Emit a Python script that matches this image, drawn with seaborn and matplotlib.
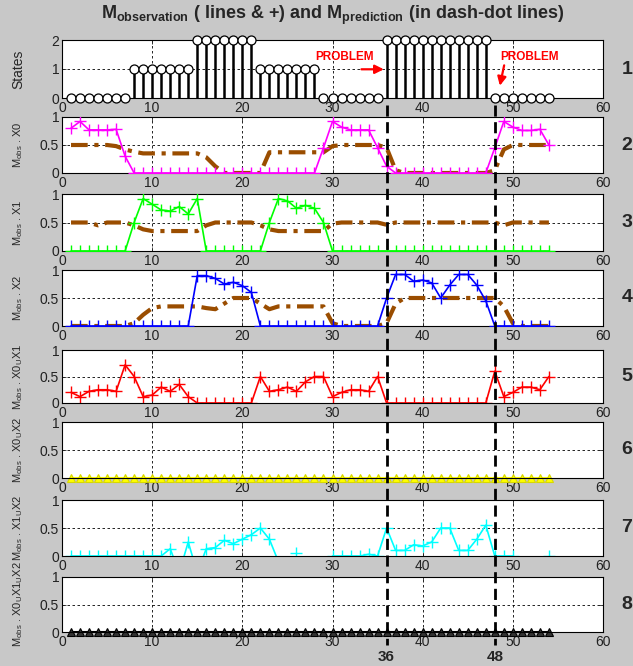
import numpy as np
import pandas as pd
import matplotlib
matplotlib.use("Agg")
import matplotlib.pyplot as plt
import seaborn as sns
from matplotlib.lines import Line2D

sns.set_style("white")
plt.rcParams['font.family'] = ['Liberation Sans', 'DejaVu Sans']
plt.rcParams['mathtext.fontset'] = 'custom'
plt.rcParams['mathtext.rm'] = 'Liberation Sans'
plt.rcParams['mathtext.it'] = 'Liberation Sans'
plt.rcParams['mathtext.bf'] = 'Liberation Sans:bold'

# ---------------- data ----------------
time = list(range(1, 55))

states = [0, 0, 0, 0, 0, 0, 0,
          1, 1, 1, 1, 1, 1, 1,
          2, 2, 2, 2, 2, 2, 2,
          1, 1, 1, 1, 1, 1, 1,
          0, 0, 0, 0, 0, 0, 0,
          2, 2, 2, 2, 2, 2, 2, 2, 2, 2, 2, 2,
          0, 0, 0, 0, 0, 0, 0]

obs_x0 = [0.80, 0.92, 0.77, 0.77, 0.77, 0.78, 0.30,
          0, 0, 0, 0, 0, 0, 0, 0, 0, 0, 0, 0, 0, 0, 0, 0, 0, 0, 0, 0, 0,
          0.45, 0.92, 0.82, 0.77, 0.77, 0.77, 0.45, 0.12,
          0, 0, 0, 0, 0, 0, 0, 0, 0, 0, 0,
          0.45, 0.92, 0.82, 0.76, 0.76, 0.78, 0.50]
pred_x0 = [0.5, 0.5, 0.5, 0.5, 0.5, 0.48, 0.42, 0.38,
           0.35, 0.35, 0.35, 0.35, 0.35, 0.35, 0.35, 0.28, 0.12,
           0, 0, 0, 0, 0,
           0.37, 0.37, 0.37, 0.37, 0.37, 0.37, 0.37,
           0.48, 0.5, 0.5, 0.5, 0.5, 0.5, 0.45, 0.05,
           0, 0, 0, 0, 0, 0, 0, 0, 0, 0,
           0.05, 0.42, 0.5, 0.5, 0.5, 0.5, 0.5]

obs_x1 = [0, 0, 0, 0, 0, 0, 0,
          0.5, 0.92, 0.82, 0.72, 0.70, 0.78, 0.65, 0.92,
          0, 0, 0, 0, 0, 0, 0,
          0.5, 0.92, 0.88, 0.75, 0.80, 0.75, 0.5,
          0, 0, 0, 0, 0, 0, 0, 0, 0, 0, 0, 0, 0, 0, 0, 0, 0, 0, 0, 0, 0, 0, 0, 0, 0]
pred_x1 = [0.5, 0.5, 0.5, 0.45, 0.5, 0.5, 0.5, 0.45, 0.38,
           0.35, 0.35, 0.35, 0.35, 0.35, 0.35,
           0.45, 0.5, 0.5, 0.5, 0.5, 0.5, 0.45, 0.38,
           0.35, 0.35, 0.35, 0.35, 0.35, 0.35,
           0.48, 0.5, 0.5, 0.5, 0.5, 0.5, 0.46,
           0.5, 0.5, 0.5, 0.5, 0.5, 0.5, 0.5, 0.5, 0.5, 0.5, 0.5, 0.5,
           0.45, 0.5, 0.5, 0.5, 0.5, 0.5]

obs_x2 = [0, 0, 0, 0, 0, 0, 0, 0, 0, 0, 0, 0, 0, 0,
          0.90, 0.90, 0.85, 0.75, 0.78, 0.72, 0.60,
          0, 0, 0, 0, 0, 0, 0, 0, 0, 0, 0, 0, 0, 0,
          0.5, 0.92, 0.92, 0.80, 0.82, 0.77, 0.5, 0.73, 0.92, 0.92, 0.73, 0.45,
          0, 0, 0, 0, 0, 0, 0]
pred_x2 = [0, 0, 0, 0, 0, 0, 0,
           0.05, 0.2, 0.32,
           0.35, 0.35, 0.35, 0.35, 0.35,
           0.32, 0.30, 0.40, 0.5, 0.5, 0.5, 0.40, 0.30,
           0.35, 0.35, 0.35, 0.35, 0.35, 0.35,
           0.05, 0, 0, 0, 0, 0,
           0.05, 0.40,
           0.5, 0.5, 0.5, 0.5, 0.5, 0.5, 0.5, 0.5, 0.5, 0.5, 0.5,
           0.35, 0.05, 0, 0, 0, 0]

obs_x01 = [0.20, 0.12, 0.22, 0.25, 0.25, 0.22, 0.72, 0.50, 0.12, 0.15, 0.30, 0.22, 0.35, 0.12,
           0, 0, 0, 0, 0, 0, 0,
           0.50, 0.22, 0.25, 0.30, 0.22, 0.40, 0.50, 0.50, 0.12, 0.20, 0.25, 0.25, 0.22, 0.50,
           0, 0, 0, 0, 0, 0, 0, 0, 0, 0, 0, 0,
           0.60, 0.12, 0.20, 0.30, 0.30, 0.25, 0.50]

obs_x02 = [0] * 54

nan = np.nan
obs_x12 = [0, 0, 0, 0, 0, 0, 0, 0, 0, 0, 0,
           0.13, -0.3, 0.25, -0.3, 0.13, 0.15, 0.28, 0.22, 0.30, 0.38, 0.50, 0.30, -0.1,
           nan, 0.05, nan, nan, nan,
           0, 0, 0, 0, 0.03, 0,
           0.50, 0.10, 0.10, 0.20, 0.18, 0.25, 0.50, 0.50, 0.10, 0.10, 0.30, 0.55,
           0, 0, 0, nan, nan, nan, 0]

obs_x012 = [0] * 54

state_labels = ['0', '1', '2']
prob_labels = ['0', '0.5', '1']
xticks = [0, 10, 20, 30, 40, 50, 60]

# ---------------- figure ----------------
W, H = 633, 666
fig = plt.figure(figsize=(W / 100, H / 100), dpi=100, facecolor='#c8c8c8')

panels_px = [(40, 98), (117, 173), (194, 251), (270, 326),
             (350, 403), (422, 478), (500, 556), (577, 632)]
left, width = 62 / W, 541 / W
axes = []
for (t, b) in panels_px:
    ax = fig.add_axes([left, 1 - b / H, width, (b - t) / H])
    axes.append(ax)

brown = '#9a4d00'
pred_style = dict(color=brown, linewidth=3, linestyle=(0, (4, 1.6, 1, 1.6)))


def obs_kw(col):
    return dict(color=col, marker='+', markersize=8, markeredgewidth=1.0,
                markeredgecolor=col, markerfacecolor=col, linewidth=1.2)


def style_axis(ax, ylim, yticks, ylabels):
    ax.set_facecolor('white')
    ax.set_xlim(0, 60)
    ax.set_ylim(*ylim)
    ax.set_xticks(xticks)
    ax.set_xticklabels([str(v) for v in xticks])
    ax.set_yticks(yticks)
    ax.set_yticklabels(ylabels)
    ax.tick_params(direction='in', length=3, top=True, right=True,
                   labelsize=10, labelcolor='#222222', pad=2,
                   bottom=True, left=True, width=0.6)
    for s in ax.spines.values():
        s.set_color('black')
        s.set_linewidth(0.8)
    ax.grid(True, color='black', linestyle=(0, (3, 3)), linewidth=0.6)
    ax.set_axisbelow(True)
    ax.set_xlabel('')


# panel 1: states (stem)
ax = axes[0]
ax.vlines(time, 0, states, color='black', linewidth=1.8, zorder=2)
sns.scatterplot(x=time, y=states, ax=ax, marker='o', s=42, facecolor='white',
                edgecolor='black', linewidth=0.9, clip_on=False, zorder=3, legend=False)
style_axis(ax, (0, 2), [0, 1, 2], state_labels)
ax.set_ylabel('States', fontsize=10)
ax.text(31.3, 1.42, 'PROBLEM', color='red', fontweight='bold', fontsize=8.5, ha='center', va='center')
ax.annotate('', xy=(36.0, 0.99), xytext=(32.9, 0.99),
            arrowprops=dict(arrowstyle='-|>', color='red', lw=1.6, mutation_scale=13))
ax.text(51.8, 1.42, 'PROBLEM', color='red', fontweight='bold', fontsize=8.5, ha='center', va='center')
ax.annotate('', xy=(48.5, 0.33), xytext=(49.1, 1.22),
            arrowprops=dict(arrowstyle='-|>', color='red', lw=1.6, mutation_scale=13))

# panels with observation + prediction
series = [
    (axes[1], obs_x0, pred_x0, '#ff00ff', r'M$_{\mathrm{obs}}$ . X0'),
    (axes[2], obs_x1, pred_x1, '#00ff00', r'M$_{\mathrm{obs}}$ . X1'),
    (axes[3], obs_x2, pred_x2, '#0000ff', r'M$_{\mathrm{obs}}$ . X2'),
]
for ax, obs, pred, col, lab in series:
    sns.lineplot(x=time, y=pred, ax=ax, **pred_style, zorder=2)
    sns.lineplot(x=time, y=obs, ax=ax, **obs_kw(col), zorder=3)
    style_axis(ax, (0, 1), [0, 0.5, 1], prob_labels)
    ax.set_ylabel(lab, fontsize=8)

# panel 5
ax = axes[4]
sns.lineplot(x=time, y=obs_x01, ax=ax, **obs_kw('#ff0000'))
style_axis(ax, (0, 1), [0, 0.5, 1], prob_labels)
ax.set_ylabel(r'M$_{\mathrm{obs}}$ . X0$_{\mathrm{U}}$X1', fontsize=8)

# panel 6
ax = axes[5]
sns.lineplot(x=time, y=obs_x02, ax=ax, color='#ffff00', marker='^', markersize=6,
             markeredgewidth=0.8, markeredgecolor='#d8d800', markerfacecolor='#ffff00',
             linewidth=1.5, clip_on=False)
style_axis(ax, (0, 1), [0, 0.5, 1], prob_labels)
ax.set_ylabel(r'M$_{\mathrm{obs}}$ . X0$_{\mathrm{U}}$X2', fontsize=8)

# panel 7 (gaps)
ax = axes[6]
df7 = pd.DataFrame({'t': time, 'v': obs_x12})
df7['seg'] = df7['v'].isna().cumsum()
df7 = df7.dropna()
sns.lineplot(data=df7, x='t', y='v', units='seg', estimator=None, ax=ax,
             **obs_kw('#00ffff'))
style_axis(ax, (0, 1), [0, 0.5, 1], prob_labels)
ax.set_ylabel(r'M$_{\mathrm{obs}}$ . X1$_{\mathrm{U}}$X2', fontsize=8)

# panel 8
ax = axes[7]
sns.lineplot(x=time, y=obs_x012, ax=ax, color='black', marker='^', markersize=6,
             markeredgewidth=0.8, markeredgecolor='black', markerfacecolor='#333333',
             linewidth=1.5, clip_on=False)
style_axis(ax, (0, 1), [0, 0.5, 1], prob_labels)
ax.set_ylabel(r'M$_{\mathrm{obs}}$ . X0$_{\mathrm{U}}$X1$_{\mathrm{U}}$X2', fontsize=8)

for ax in axes:
    ax.yaxis.set_label_coords(-0.068, 0.5)

# panel numbers
for i, (t, b) in enumerate(panels_px):
    fig.text(627 / W, 1 - (t + b) / 2 / H, str(i + 1), fontsize=14, fontweight='bold',
             ha='center', va='center')

# vertical marker lines at 36 and 48
for xv in [36, 48]:
    fx = left + xv / 60 * width
    fig.add_artist(Line2D([fx, fx], [1 - 105 / H, 1 - 645 / H], transform=fig.transFigure,
                          color='black', linewidth=2, linestyle=(0, (4, 2)), zorder=20))
    fig.text(fx, 1 - 657 / H, str(xv), fontsize=11, fontweight='bold', ha='center', va='center')

fig.text(0.526, 1 - 15 / H,
         r'M$_{\mathbf{observation}}$ ( lines & +) and M$_{\mathbf{prediction}}$ (in dash-dot lines)',
         fontsize=13, fontweight='bold', ha='center', va='center')

fig.savefig('out.png', dpi=100, facecolor=fig.get_facecolor())
